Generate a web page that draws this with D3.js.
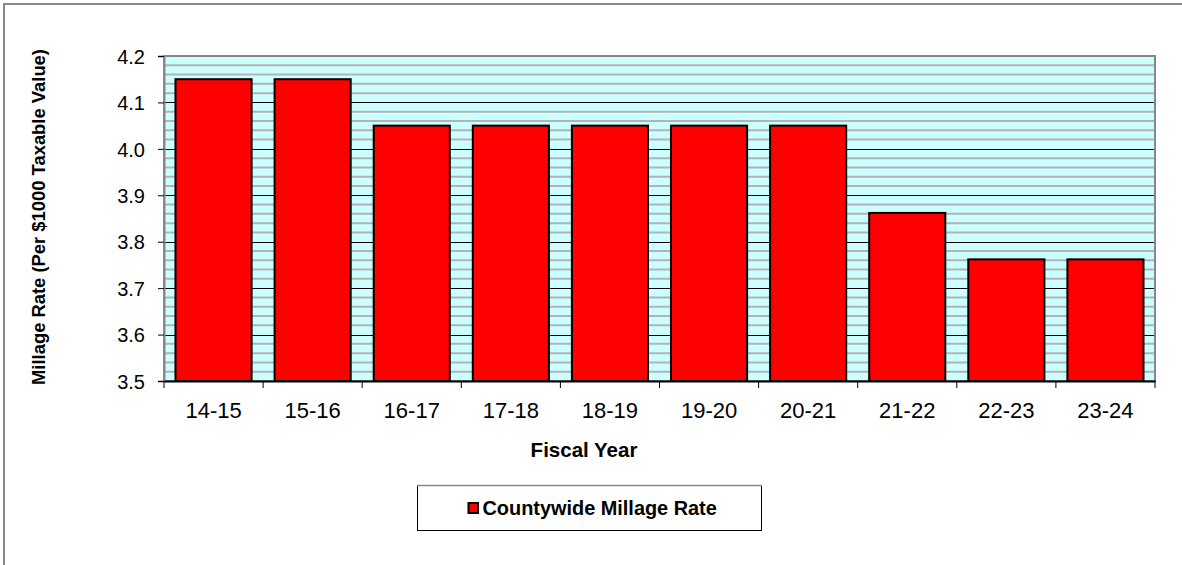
<!DOCTYPE html>
<html><head><meta charset="utf-8">
<script src="https://cdn.jsdelivr.net/npm/d3@7"></script>
<style>body{margin:0;background:#fff}svg{display:block}</style>
</head><body>
<svg id="c" width="1182" height="565"></svg>
<script>
const categories = ["14-15","15-16","16-17","17-18","18-19","19-20","20-21","21-22","22-23","23-24"];
const values = [4.15,4.15,4.05,4.05,4.05,4.05,4.05,3.862,3.762,3.762];
const yTicks = [3.5,3.6,3.7,3.8,3.9,4.0,4.1,4.2];
const seriesName = "Countywide Millage Rate";

const svg = d3.select("#c");
const font = "Liberation Sans, Arial, sans-serif";
const L=164, R=1155, T=56, B=381;

// outer chart border (only top/left visible in frame)
svg.append("rect").attr("x",4).attr("y",4).attr("width",1200).attr("height",600)
  .attr("fill","#fff").attr("stroke","#888").attr("stroke-width",2);

const x = d3.scaleBand().domain(categories).range([L,R]).paddingInner(0.232).paddingOuter(0.116);
const y = d3.scaleLinear().domain([3.5,4.2]).range([B,T]);

svg.append("rect").attr("x",L).attr("y",T).attr("width",R-L).attr("height",B-T).attr("fill","#ccffff");

const minor = d3.range(0,36).map(i=>3.5+i*0.02).filter((v,i)=>i%5!==0);
svg.append("g").selectAll("line").data(minor).join("line")
  .attr("x1",L).attr("x2",R).attr("y1",d=>y(d)).attr("y2",d=>y(d))
  .attr("stroke","#b3b3b3").attr("stroke-width",2);
svg.append("g").selectAll("line").data(yTicks.slice(1,-1)).join("line")
  .attr("x1",L).attr("x2",R).attr("y1",d=>Math.round(y(d))+0.5).attr("y2",d=>Math.round(y(d))+0.5)
  .attr("stroke","#000").attr("stroke-width",1);

// plot border
svg.append("rect").attr("x",L).attr("y",T).attr("width",R-L).attr("height",B-T)
  .attr("fill","none").attr("stroke","#888").attr("stroke-width",2);

svg.append("g").selectAll("rect").data(values).join("rect")
  .attr("x",(d,i)=>x(categories[i])).attr("width",x.bandwidth())
  .attr("y",d=>y(d)).attr("height",d=>B-y(d))
  .attr("fill","#ff0000").attr("stroke","#000").attr("stroke-width",2);

// y axis
const ya = svg.append("g").attr("transform",`translate(${L},0)`)
  .call(d3.axisLeft(y).tickValues(yTicks).tickFormat(d3.format(".1f")).tickSize(6).tickPadding(13));
ya.select(".domain").attr("stroke","#888").attr("stroke-width",2);
ya.selectAll("text").attr("font-family",font).attr("font-size",20).attr("fill","#000").attr("dy","0.36em");

// x axis
const xa = svg.append("g").attr("transform",`translate(0,${B})`)
  .call(d3.axisBottom(x).tickSize(0).tickPadding(0));
xa.select(".domain").attr("stroke","#000").attr("stroke-width",2);
xa.selectAll("text").attr("font-family",font).attr("font-size",22).attr("fill","#000")
  .attr("dy",null).attr("y",37);
const bounds = d3.range(0,categories.length+1).map(i=>L+i*x.step());
svg.append("g").selectAll("line").data(bounds).join("line")
  .attr("x1",d=>d).attr("x2",d=>d).attr("y1",B).attr("y2",B+7).attr("stroke","#000").attr("stroke-width",1);

svg.append("text").attr("x",584).attr("y",457).attr("text-anchor","middle")
  .attr("font-family",font).attr("font-size",20.5).attr("font-weight","bold").text("Fiscal Year");
svg.append("text").attr("transform",`translate(45,217) rotate(-90)`).attr("text-anchor","middle")
  .attr("font-family",font).attr("font-size",18.4).attr("font-weight","bold").text("Millage Rate (Per $1000 Taxable Value)");

// legend
const lg = svg.append("g");
lg.append("rect").attr("x",417.5).attr("y",485.5).attr("width",344).attr("height",45).attr("fill","#fff").attr("stroke","#000").attr("stroke-width",1);
lg.append("line").attr("x1",417).attr("x2",762).attr("y1",485.5).attr("y2",485.5).attr("stroke","#888").attr("stroke-width",1.5);
lg.append("rect").attr("x",468.5).attr("y",503).attr("width",9.5).attr("height",10).attr("fill","#ff0000").attr("stroke","#000").attr("stroke-width",2);
lg.append("text").attr("x",482.5).attr("y",515).attr("font-family",font).attr("font-size",19.9).attr("font-weight","bold").text(seriesName);
</script>
</body></html>
